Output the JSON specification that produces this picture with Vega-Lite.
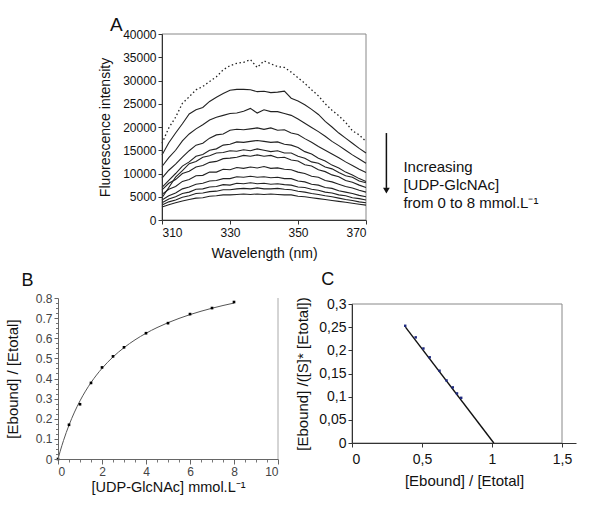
{
  "$schema": "https://vega.github.io/schema/vega-lite/v6.json",
  "width": 600,
  "height": 506,
  "autosize": {"type": "none"},
  "padding": 0,
  "background": "white",
  "config": {
    "view": {"stroke": null},
    "font": "Liberation Sans",
    "axis": {"grid": false, "labelFont": "Liberation Sans", "titleFont": "Liberation Sans", "titleFontWeight": "normal", "labelColor": "#111", "titleColor": "#111", "domainColor": "#333", "tickColor": "#333"},
    "text": {"font": "Liberation Sans", "color": "#111"}
  },
  "datasets": {
    "spectra": [
      {"w":310,"c0":16500,"c1":14000,"c2":11500,"c3":9000,"c4":7000,"c5":4800,"c6":6500,"c7":5500,"c8":4300,"c9":3700,"c10":3200,"c11":2800},
      {"w":312,"c0":19800,"c1":16600,"c2":13400,"c3":10700,"c4":8500,"c5":7000,"c6":7900,"c7":6600,"c8":5200,"c9":4500,"c10":3900,"c11":3300},
      {"w":314,"c0":22100,"c1":18700,"c2":15000,"c3":12000,"c4":10000,"c5":9200,"c6":8700,"c7":7200,"c8":5800,"c9":5000,"c10":4300,"c11":3700},
      {"w":316,"c0":25100,"c1":20700,"c2":17000,"c3":13500,"c4":11600,"c5":10600,"c6":10000,"c7":8300,"c8":6700,"c9":5700,"c10":4900,"c11":4100},
      {"w":318,"c0":26500,"c1":22800,"c2":18500,"c3":14900,"c4":12500,"c5":12100,"c6":10500,"c7":8700,"c8":7100,"c9":6000,"c10":5200,"c11":4400},
      {"w":320,"c0":28000,"c1":23700,"c2":19600,"c3":16100,"c4":13700,"c5":12600,"c6":11400,"c7":9500,"c8":7700,"c9":6600,"c10":5700,"c11":4700},
      {"w":322,"c0":28700,"c1":24200,"c2":20500,"c3":16500,"c4":14100,"c5":13500,"c6":11700,"c7":9600,"c8":7900,"c9":6700,"c10":5800,"c11":4800},
      {"w":324,"c0":29800,"c1":25500,"c2":21500,"c3":17600,"c4":15000,"c5":13800,"c6":12400,"c7":10300,"c8":8400,"c9":7100,"c10":6100,"c11":5100},
      {"w":326,"c0":30800,"c1":26400,"c2":22100,"c3":18300,"c4":15300,"c5":14400,"c6":12600,"c7":10300,"c8":8500,"c9":7200,"c10":6200,"c11":5200},
      {"w":328,"c0":32300,"c1":27200,"c2":22500,"c3":18500,"c4":16100,"c5":14500,"c6":13200,"c7":10900,"c8":8900,"c9":7600,"c10":6500,"c11":5400},
      {"w":330,"c0":33200,"c1":27900,"c2":22900,"c3":19300,"c4":16300,"c5":14900,"c6":13300,"c7":10800,"c8":8900,"c9":7500,"c10":6500,"c11":5400},
      {"w":332,"c0":33700,"c1":28100,"c2":23000,"c3":19500,"c4":16800,"c5":14800,"c6":13500,"c7":11300,"c8":9300,"c9":7900,"c10":6700,"c11":5500},
      {"w":334,"c0":33900,"c1":28100,"c2":23400,"c3":19400,"c4":16700,"c5":15100,"c6":13900,"c7":11100,"c8":9200,"c9":7800,"c10":6800,"c11":5600},
      {"w":336,"c0":34500,"c1":28000,"c2":24000,"c3":19600,"c4":16900,"c5":14900,"c6":13700,"c7":11400,"c8":9400,"c9":8000,"c10":6700,"c11":5500},
      {"w":338,"c0":32800,"c1":27600,"c2":23000,"c3":19800,"c4":17100,"c5":15300,"c6":14000,"c7":11200,"c8":9200,"c9":7800,"c10":6900,"c11":5600},
      {"w":340,"c0":34200,"c1":27700,"c2":23700,"c3":19500,"c4":16900,"c5":15000,"c6":13700,"c7":11500,"c8":9300,"c9":7900,"c10":6700,"c11":5500},
      {"w":342,"c0":33600,"c1":27400,"c2":23300,"c3":19800,"c4":16700,"c5":14700,"c6":13900,"c7":11100,"c8":9100,"c9":7700,"c10":6700,"c11":5600},
      {"w":344,"c0":33000,"c1":27500,"c2":23300,"c3":19300,"c4":16800,"c5":14900,"c6":13400,"c7":11200,"c8":9200,"c9":7800,"c10":6800,"c11":5500},
      {"w":346,"c0":32800,"c1":27700,"c2":22900,"c3":19400,"c4":16300,"c5":14400,"c6":13500,"c7":10900,"c8":8900,"c9":7600,"c10":6600,"c11":5400},
      {"w":348,"c0":31800,"c1":26200,"c2":22500,"c3":18700,"c4":16100,"c5":14400,"c6":12900,"c7":10800,"c8":8900,"c9":7500,"c10":6500,"c11":5400},
      {"w":350,"c0":30600,"c1":25600,"c2":21700,"c3":18400,"c4":15600,"c5":13700,"c6":12700,"c7":10300,"c8":8400,"c9":7100,"c10":6200,"c11":5100},
      {"w":352,"c0":29400,"c1":24800,"c2":20800,"c3":17500,"c4":14700,"c5":13300,"c6":11900,"c7":10000,"c8":8200,"c9":7000,"c10":6000,"c11":5000},
      {"w":354,"c0":28000,"c1":23800,"c2":19900,"c3":16700,"c4":14200,"c5":12500,"c6":11600,"c7":9400,"c8":7700,"c9":6600,"c10":5700,"c11":4800},
      {"w":356,"c0":26700,"c1":22700,"c2":19000,"c3":15800,"c4":13300,"c5":12200,"c6":10800,"c7":9200,"c8":7500,"c9":6400,"c10":5500,"c11":4600},
      {"w":358,"c0":25000,"c1":21200,"c2":18000,"c3":15000,"c4":12700,"c5":11400,"c6":10400,"c7":8500,"c8":7000,"c9":6000,"c10":5200,"c11":4400},
      {"w":360,"c0":23600,"c1":20000,"c2":16900,"c3":14200,"c4":11800,"c5":11000,"c6":9700,"c7":8200,"c8":6800,"c9":5800,"c10":5000,"c11":4200},
      {"w":362,"c0":22400,"c1":18700,"c2":16000,"c3":13400,"c4":11200,"c5":10200,"c6":9300,"c7":7700,"c8":6300,"c9":5400,"c10":4700,"c11":4000},
      {"w":364,"c0":21000,"c1":17600,"c2":15000,"c3":12500,"c4":10300,"c5":9500,"c6":8500,"c7":7200,"c8":6000,"c9":5200,"c10":4400,"c11":3800},
      {"w":366,"c0":19200,"c1":16500,"c2":14000,"c3":11700,"c4":9700,"c5":9200,"c6":8100,"c7":6900,"c8":5700,"c9":4800,"c10":4200,"c11":3600},
      {"w":368,"c0":18300,"c1":15400,"c2":13100,"c3":10900,"c4":8900,"c5":8400,"c6":7500,"c7":6400,"c8":5300,"c9":4600,"c10":3900,"c11":3400},
      {"w":370,"c0":16900,"c1":14400,"c2":12200,"c3":10200,"c4":8300,"c5":8000,"c6":7000,"c7":6000,"c8":5000,"c9":4300,"c10":3700,"c11":3200}
    ],
    "binding": [
      {"s":0,"f":0},{"s":0.5,"f":0.17},{"s":1,"f":0.272},{"s":1.5,"f":0.378},{"s":2,"f":0.455},{"s":2.5,"f":0.51},
      {"s":3,"f":0.555},{"s":4,"f":0.625},{"s":5,"f":0.675},{"s":6,"f":0.72},{"s":7,"f":0.75},{"s":8,"f":0.78}
    ],
    "fit": [
      {"s":0,"f":0},{"s":0.1,"f":0.0388},{"s":0.25,"f":0.0917},{"s":0.5,"f":0.1683},{"s":0.75,"f":0.2332},{"s":1,"f":0.289},
      {"s":1.5,"f":0.3797},{"s":2,"f":0.4503},{"s":2.5,"f":0.507},{"s":3,"f":0.5533},{"s":3.5,"f":0.592},{"s":4,"f":0.6248},
      {"s":4.5,"f":0.6529},{"s":5,"f":0.6773},{"s":5.5,"f":0.6986},{"s":6,"f":0.7175},{"s":6.5,"f":0.7342},{"s":7,"f":0.7492},
      {"s":7.5,"f":0.7627},{"s":8,"f":0.7749}
    ],
    "scatchard": [
      {"r":0.38,"q":0.253},{"r":0.455,"q":0.228},{"r":0.51,"q":0.204},{"r":0.555,"q":0.185},{"r":0.625,"q":0.156},
      {"r":0.675,"q":0.135},{"r":0.72,"q":0.12},{"r":0.75,"q":0.107},{"r":0.78,"q":0.0975}
    ],
    "scatfit": [{"r":0.382,"q":0.25},{"r":1.013,"q":0}],
    "one": [{"k":1}]
  },
  "layer": [
    {
      "layer": [
        {
          "data": {"name": "one"},
          "mark": {"type": "rect", "filled": false, "color": "#888", "strokeWidth": 1},
          "encoding": {
            "x": {"datum": 310, "type": "quantitative", "scale": {"domain": [310, 370], "range": [162, 366]},
              "axis": {"orient": "bottom", "offset": -286, "values": [310, 330, 350, 370], "tickSize": 4, "labelFontSize": 12, "labelPadding": 3, "title": "Wavelength (nm)", "titleFontSize": 14, "titlePadding": 8, "zindex": 1}},
            "x2": {"datum": 370},
            "y": {"datum": 0, "type": "quantitative", "scale": {"domain": [0, 40000], "range": [220, 34]},
              "axis": {"orient": "left", "offset": -162, "values": [0, 5000, 10000, 15000, 20000, 25000, 30000, 35000, 40000], "format": "d", "tickSize": 4, "labelFontSize": 12, "labelPadding": 2, "title": "Fluorescence intensity", "titleFontSize": 14, "titlePadding": 10, "zindex": 1}},
            "y2": {"datum": 40000}
          }
        },
        {
          "data": {"name": "spectra"},
          "transform": [{"fold": ["c1","c2","c3","c4","c5","c6","c7","c8","c9","c10","c11"], "as": ["curve", "v"]}],
          "mark": {"type": "line", "color": "#222", "strokeWidth": 1.1},
          "encoding": {
            "x": {"field": "w", "type": "quantitative", "axis": null},
            "y": {"field": "v", "type": "quantitative", "axis": null},
            "detail": {"field": "curve"}
          }
        },
        {
          "data": {"name": "spectra"},
          "mark": {"type": "line", "color": "#222", "strokeWidth": 1.3, "strokeDash": [1.5, 2.5]},
          "encoding": {
            "x": {"field": "w", "type": "quantitative", "axis": null},
            "y": {"field": "c0", "type": "quantitative", "axis": null}
          }
        },
        {
          "data": {"name": "one"},
          "mark": {"type": "rule", "color": "#111", "strokeWidth": 1.5},
          "encoding": {
            "x": {"datum": 376, "type": "quantitative", "axis": null},
            "y": {"datum": 18700, "type": "quantitative", "axis": null},
            "y2": {"datum": 6900}
          }
        },
        {
          "data": {"name": "one"},
          "mark": {"type": "point", "shape": "triangle-down", "filled": true, "color": "#111", "size": 45, "opacity": 1},
          "encoding": {
            "x": {"datum": 376, "type": "quantitative", "axis": null},
            "y": {"datum": 6300, "type": "quantitative", "axis": null}
          }
        },
        {
          "data": {"name": "one"},
          "mark": {"type": "text", "align": "left", "baseline": "middle", "fontSize": 15, "lineHeight": 18, "text": ["Increasing", "[UDP-GlcNAc]", "from 0 to 8 mmol.L⁻¹"]},
          "encoding": {
            "x": {"datum": 381, "type": "quantitative", "axis": null},
            "y": {"datum": 11460, "type": "quantitative", "axis": null}
          }
        },
        {
          "data": {"name": "one"},
          "mark": {"type": "text", "align": "center", "baseline": "middle", "fontSize": 19, "text": "A"},
          "encoding": {
            "x": {"datum": 296.6, "type": "quantitative", "axis": null},
            "y": {"datum": 42000, "type": "quantitative", "axis": null}
          }
        }
      ],
      "resolve": {"axis": {"x": "independent", "y": "independent"}}
    },
    {
      "layer": [
        {
          "data": {"name": "one"},
          "mark": {"type": "rule", "color": "#aaa", "strokeWidth": 1},
          "encoding": {
            "x": {"datum": 10, "type": "quantitative", "scale": {"domain": [0, 10], "range": [58, 278]}, "axis": null},
            "y": {"datum": 0, "type": "quantitative", "scale": {"domain": [0, 0.8], "range": [459, 298]}, "axis": null},
            "y2": {"datum": 0.8}
          }
        },
        {
          "data": {"name": "fit"},
          "mark": {"type": "line", "color": "#555", "strokeWidth": 1, "interpolate": "monotone"},
          "encoding": {
            "x": {"field": "s", "type": "quantitative",
              "axis": {"orient": "bottom", "offset": -47, "values": [0.5,1,1.5,2.5,3,3.5,4.5,5,5.5,6.5,7,7.5,8.5,9,9.5], "labels": false, "domain": false, "tickSize": 3, "tickColor": "#777", "title": null}},
            "y": {"field": "f", "type": "quantitative",
              "axis": {"orient": "left", "offset": -58, "values": [0.025,0.05,0.075,0.125,0.15,0.175,0.225,0.25,0.275,0.325,0.35,0.375,0.425,0.45,0.475,0.525,0.55,0.575,0.625,0.65,0.675,0.725,0.75,0.775], "labels": false, "domain": false, "tickSize": 2.5, "tickColor": "#777", "title": null}}
          }
        },
        {
          "data": {"name": "binding"},
          "mark": {"type": "square", "color": "#000", "size": 7, "opacity": 1},
          "encoding": {
            "x": {"field": "s", "type": "quantitative",
              "axis": {"orient": "bottom", "offset": -47, "values": [0, 2, 4, 6, 8, 10], "tickSize": 5, "labelFontSize": 12, "labelColor": "#444", "labelPadding": 2, "domainColor": "#666", "tickColor": "#666", "title": "[UDP-GlcNAc] mmol.L⁻¹", "titleFontSize": 14.5, "titlePadding": 3, "zindex": 1}},
            "y": {"field": "f", "type": "quantitative",
              "axis": {"orient": "left", "offset": -58, "values": [0, 0.1, 0.2, 0.3, 0.4, 0.5, 0.6, 0.7, 0.8], "labelExpr": "format(datum.value, '~g')", "tickSize": 4, "labelFontSize": 12, "labelColor": "#444", "labelPadding": 2, "domainColor": "#666", "tickColor": "#666", "title": "[Ebound] / [Etotal]", "titleFontSize": 15, "titlePadding": 15, "zindex": 1}}
          }
        },
        {
          "data": {"name": "one"},
          "mark": {"type": "text", "align": "center", "baseline": "middle", "fontSize": 18, "text": "B"},
          "encoding": {
            "x": {"datum": -1.386, "type": "quantitative", "axis": null},
            "y": {"datum": 0.8845, "type": "quantitative", "axis": null}
          }
        }
      ],
      "resolve": {"axis": {"x": "independent", "y": "independent"}}
    },
    {
      "layer": [
        {
          "data": {"name": "one"},
          "mark": {"type": "rect", "filled": false, "color": "#888", "strokeWidth": 1},
          "encoding": {
            "x": {"datum": 0, "type": "quantitative", "scale": {"domain": [0, 1.5], "range": [352, 576]},
              "axis": {"orient": "bottom", "offset": -63, "values": [0, 0.5, 1, 1.5], "labelExpr": "replace(format(datum.value, '~g'), '.', ',')", "tickSize": 4, "labelFontSize": 14, "labelPadding": 5, "title": "[Ebound] /  [Etotal]", "titleFontSize": 15, "titlePadding": 7, "zindex": 1}},
            "x2": {"datum": 1.5},
            "y": {"datum": 0, "type": "quantitative", "scale": {"domain": [0, 0.3], "range": [443, 304]},
              "axis": {"orient": "left", "offset": -352, "values": [0, 0.05, 0.1, 0.15, 0.2, 0.25, 0.3], "labelExpr": "replace(format(datum.value, '~g'), '.', ',')", "tickSize": 4, "labelFontSize": 14, "labelPadding": 2, "title": "[Ebound] /([S]* [Etotal])", "titleFontSize": 15, "titlePadding": 8, "zindex": 1}},
            "y2": {"datum": 0.3}
          }
        },
        {
          "data": {"name": "scatfit"},
          "mark": {"type": "line", "color": "#111", "strokeWidth": 1.4},
          "encoding": {
            "x": {"field": "r", "type": "quantitative", "axis": null},
            "y": {"field": "q", "type": "quantitative", "axis": null}
          }
        },
        {
          "data": {"name": "scatchard"},
          "mark": {"type": "square", "color": "#1f2a80", "size": 6, "opacity": 1},
          "encoding": {
            "x": {"field": "r", "type": "quantitative", "axis": null},
            "y": {"field": "q", "type": "quantitative", "axis": null}
          }
        },
        {
          "data": {"name": "one"},
          "mark": {"type": "text", "align": "center", "baseline": "middle", "fontSize": 18, "text": "C"},
          "encoding": {
            "x": {"datum": -0.174, "type": "quantitative", "axis": null},
            "y": {"datum": 0.3518, "type": "quantitative", "axis": null}
          }
        }
      ],
      "resolve": {"axis": {"x": "independent", "y": "independent"}}
    }
  ],
  "resolve": {"scale": {"x": "independent", "y": "independent"}, "axis": {"x": "independent", "y": "independent"}}
}
